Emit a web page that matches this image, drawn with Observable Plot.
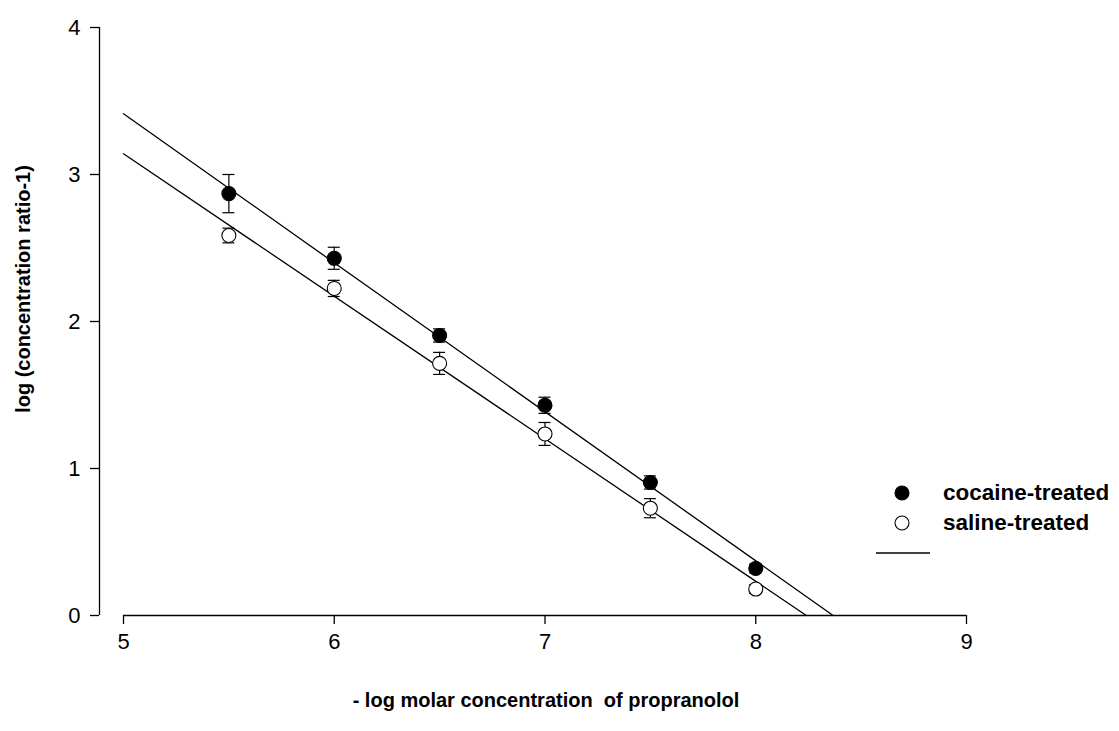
<!DOCTYPE html>
<html>
<head>
<meta charset="utf-8">
<script src="https://cdn.jsdelivr.net/npm/d3@7"></script>
<script src="https://cdn.jsdelivr.net/npm/@observablehq/plot@0.6"></script>
<style>
  html, body { margin: 0; padding: 0; background: #fff; }
  #chart svg { display: block; }
</style>
</head>
<body>
<div id="chart"></div>
<script>
// -log molar concentration of propranolol
const doses = [5.5, 6.0, 6.5, 7.0, 7.5, 8.0];

// log (concentration ratio - 1), mean and SEM per group
const cocaineMean = [2.87, 2.43, 1.905, 1.43, 0.905, 0.32];
const cocaineSem  = [0.13, 0.075, 0.045, 0.055, 0.045, 0.03];
const salineMean  = [2.585, 2.225, 1.715, 1.235, 0.73, 0.18];
const salineSem   = [0.05, 0.055, 0.075, 0.078, 0.065, 0.03];

// Schild regression lines (end points in data units)
const cocaineFitX = [5, 8.367];
const cocaineFitY = [3.413, 0];
const salineFitX  = [5, 8.24];
const salineFitY  = [3.141, 0];

const xTicks = [5, 6, 7, 8, 9];
const yTicks = [0, 1, 2, 3, 4];

const groupNames = ["cocaine-treated", "saline-treated"];
const xTitle = "- log molar concentration  of propranolol";
const yTitle = "log (concentration ratio-1)";

const rows = (means, sems, group) =>
  doses.map((x, i) => ({x, y: means[i], e: sems[i], group}));
const points = [
  ...rows(cocaineMean, cocaineSem, groupNames[0]),
  ...rows(salineMean, salineSem, groupNames[1])
];
const fit = (xs, ys) => xs.map((x, i) => ({x, y: ys[i]}));

const font = "'Liberation Sans', Arial, Helvetica, sans-serif";
const W = 1119, H = 731;
const tickFont = 22;
const yAxisOffset = -24; // y axis stands apart from the start of the x axis

const chart = Plot.plot({
  width: W,
  height: H,
  marginLeft: 123,
  marginRight: 153,
  marginTop: 27,
  marginBottom: 116,
  style: {fontFamily: font, color: "#000", background: "#fff"},
  x: {domain: [5, 9]},
  y: {domain: [0, 4]},
  marks: [
    // x axis: line, ticks and labels
    Plot.ruleY([0], {stroke: "#000", strokeWidth: 1.3}),
    Plot.axisX({ticks: xTicks, tickSize: 9, tickFormat: () => "", label: null,
                stroke: "#000", strokeWidth: 1.3}),
    Plot.text(xTicks, {x: d => d, text: d => String(d), frameAnchor: "bottom",
                       dy: 33, fontSize: tickFont, fill: "#000"}),
    // y axis
    Plot.ruleX([5], {y1: 0, y2: 4, dx: yAxisOffset, stroke: "#000", strokeWidth: 1.3}),
    Plot.axisY({ticks: yTicks, tickSize: 9, tickFormat: () => "", label: null,
                dx: yAxisOffset, stroke: "#000", strokeWidth: 1.3}),
    Plot.text(yTicks, {y: d => d, text: d => String(d), frameAnchor: "left",
                       dx: yAxisOffset - 9 - 10, textAnchor: "end", fontSize: tickFont, fill: "#000"}),
    // regression lines
    Plot.line(fit(cocaineFitX, cocaineFitY), {x: "x", y: "y", stroke: "#000", strokeWidth: 1.3}),
    Plot.line(fit(salineFitX, salineFitY), {x: "x", y: "y", stroke: "#000", strokeWidth: 1.3}),
    // error bars with caps
    Plot.ruleX(points, {x: "x", y1: d => d.y - d.e, y2: d => d.y + d.e, stroke: "#000", strokeWidth: 1.2}),
    Plot.ruleY(points, {y: d => d.y + d.e, x1: "x", x2: "x", insetLeft: -6, insetRight: -6, stroke: "#000", strokeWidth: 1.2}),
    Plot.ruleY(points, {y: d => d.y - d.e, x1: "x", x2: "x", insetLeft: -6, insetRight: -6, stroke: "#000", strokeWidth: 1.2}),
    // group means
    Plot.dot(points, {x: "x", y: "y", r: 7,
      fill: d => d.group === groupNames[0] ? "#000" : "#fff",
      stroke: "#000", strokeWidth: 1.1})
  ]
});

const svg = d3.select(chart);

// axis titles
svg.append("text")
  .attr("x", 546).attr("y", 707)
  .attr("text-anchor", "middle")
  .attr("font-family", font).attr("font-weight", "bold").attr("font-size", 20)
  .attr("fill", "#000")
  .text(xTitle);
svg.append("text")
  .attr("transform", "translate(30,289) rotate(-90)")
  .attr("text-anchor", "middle")
  .attr("font-family", font).attr("font-weight", "bold").attr("font-size", 20)
  .attr("fill", "#000")
  .text(yTitle);

// legend
const lg = svg.append("g")
  .attr("font-family", font).attr("font-weight", "bold").attr("font-size", 22.5)
  .attr("text-anchor", "start");
groupNames.forEach((name, i) => {
  const cy = 493 + i * 30;
  lg.append("circle").attr("cx", 902).attr("cy", cy).attr("r", 7)
    .attr("fill", i === 0 ? "#000" : "#fff").attr("stroke", "#000").attr("stroke-width", 1.1);
  lg.append("text").attr("x", 943).attr("y", cy + 7).attr("fill", "#000").text(name);
});
lg.append("line").attr("x1", 876).attr("x2", 930).attr("y1", 553).attr("y2", 553)
  .attr("stroke", "#000").attr("stroke-width", 1.3);

document.getElementById("chart").appendChild(chart);
</script>
</body>
</html>
